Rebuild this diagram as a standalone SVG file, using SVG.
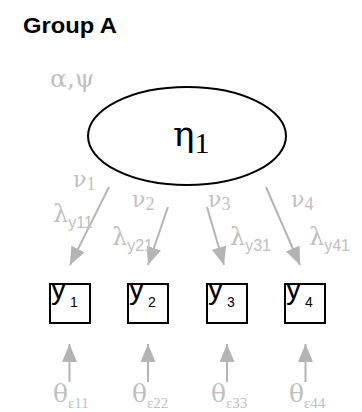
<svg xmlns="http://www.w3.org/2000/svg" width="362" height="412" viewBox="0 0 362 412">
<style>
.title{font-family:"Liberation Sans",Arial,sans-serif;font-weight:bold;font-size:22px;fill:#000}
.g{font-family:"DejaVu Serif","Liberation Serif",serif;fill:#c0c0c0}
.d{font-family:"Liberation Serif","Times New Roman",serif}
.gs{font-family:"Liberation Sans",Arial,sans-serif;fill:#c0c0c0}
.lbl{font-family:"Liberation Sans",Arial,sans-serif;fill:#000}
.box{fill:#fff;stroke:#000;stroke-width:2}
.arr{stroke:#b4b4b4;stroke-width:2;fill:none;marker-end:url(#ah)}
</style>
<defs>
<marker id="ah" markerUnits="userSpaceOnUse" markerWidth="20" markerHeight="16" refX="18" refY="7.5" orient="auto">
<path d="M0,0 L18,7.5 L0,15 Z" fill="#b4b4b4"/>
</marker>
</defs>
<text class="title" x="23" y="33" textLength="94" lengthAdjust="spacingAndGlyphs">Group A</text>
<g id="eta1">
<ellipse cx="187" cy="136" rx="99" ry="49" fill="#fff" stroke="#000" stroke-width="2"/>
<text class="g" x="173" y="146" font-size="36" style="fill:#000">η<tspan class="d" font-size="30" dy="7">1</tspan></text>
<text class="g" x="50" y="87" font-size="25">α,ψ</text>
</g>
<g id="connectors">
<line class="arr" x1="109" y1="187" x2="70" y2="265"/>
<line class="arr" x1="168" y1="207" x2="148" y2="265"/>
<line class="arr" x1="207" y1="207" x2="224" y2="265"/>
<line class="arr" x1="266" y1="187" x2="300" y2="265"/>
<line class="arr" x1="69.5" y1="382" x2="69.5" y2="344"/>
<line class="arr" x1="148" y1="382" x2="148" y2="344"/>
<line class="arr" x1="227" y1="382" x2="227" y2="344"/>
<line class="arr" x1="305.5" y1="382" x2="305.5" y2="344"/>
<text class="g" x="73" y="187" font-size="22">ν<tspan class="d" font-size="18" dy="3">1</tspan></text>
<text class="g" x="132" y="207" font-size="22">ν<tspan class="d" font-size="18" dy="3">2</tspan></text>
<text class="g" x="208" y="207" font-size="22">ν<tspan class="d" font-size="18" dy="3">3</tspan></text>
<text class="g" x="291" y="207" font-size="22">ν<tspan class="d" font-size="18" dy="3">4</tspan></text>
<text class="g" x="53" y="222" font-size="24">λ<tspan class="gs" font-size="16" dy="6">y11</tspan></text>
<text class="g" x="112" y="245" font-size="24">λ<tspan class="gs" font-size="16" dy="6">y21</tspan></text>
<text class="g" x="230" y="245" font-size="24">λ<tspan class="gs" font-size="16" dy="6">y31</tspan></text>
<text class="g" x="309" y="245" font-size="24">λ<tspan class="gs" font-size="16" dy="6">y41</tspan></text>
<text class="g" x="53" y="402" font-size="25">θ<tspan class="d" font-size="15" dy="6">ε11</tspan></text>
<text class="g" x="132" y="402" font-size="25">θ<tspan class="d" font-size="15" dy="6">ε22</tspan></text>
<text class="g" x="211" y="402" font-size="25">θ<tspan class="d" font-size="15" dy="6">ε33</tspan></text>
<text class="g" x="289" y="402" font-size="25">θ<tspan class="d" font-size="15" dy="6">ε44</tspan></text>
</g>
<g id="y1"><rect class="box" x="50" y="284" width="40" height="39"/><text class="lbl" x="51" y="299" font-size="30">y<tspan font-size="14" dx="4" dy="8">1</tspan></text></g>
<g id="y2"><rect class="box" x="128" y="284" width="40" height="39"/><text class="lbl" x="129" y="299" font-size="30">y<tspan font-size="14" dx="4" dy="8">2</tspan></text></g>
<g id="y3"><rect class="box" x="207" y="284" width="40" height="39"/><text class="lbl" x="208" y="299" font-size="30">y<tspan font-size="14" dx="4" dy="8">3</tspan></text></g>
<g id="y4"><rect class="box" x="285" y="284" width="40" height="39"/><text class="lbl" x="286" y="299" font-size="30">y<tspan font-size="14" dx="4" dy="8">4</tspan></text></g>
</svg>
